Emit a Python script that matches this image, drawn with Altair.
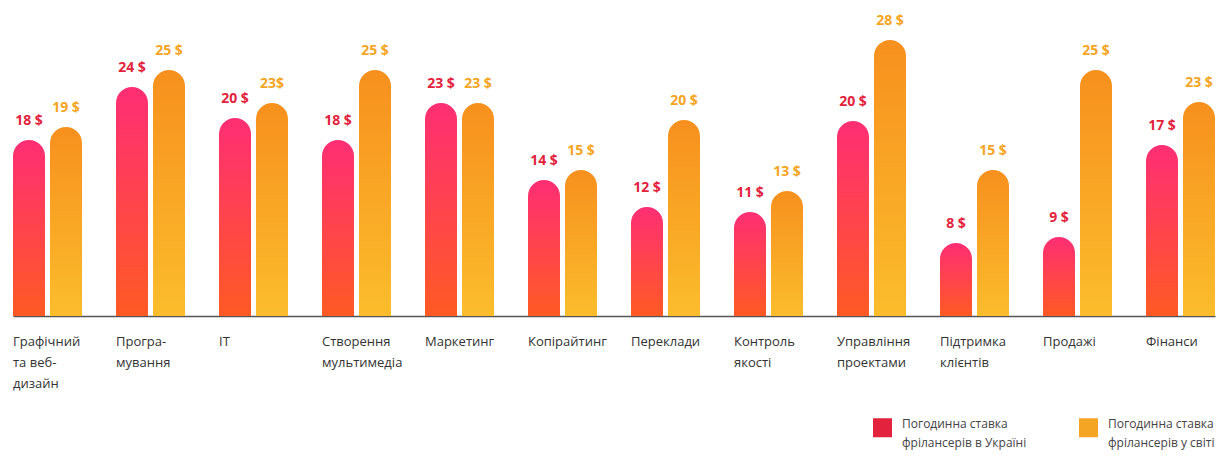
import altair as alt
import pandas as pd

categories = [
    "Графічний\nта веб-\nдизайн", "Програ-\nмування", "IT", "Створення\nмультимедіа",
    "Маркетинг", "Копірайтинг", "Переклади", "Контроль\nякості",
    "Управління\nпроектами", "Підтримка\nклієнтів", "Продажі", "Фінанси",
]
# bar heights
ua_values = [18.0, 23.3, 20.2, 18.0, 21.7, 14.0, 11.3, 10.8, 19.9, 7.7, 8.3, 17.5]
world_values = [19.3, 25.0, 21.7, 25.0, 21.7, 15.0, 20.0, 12.9, 28.0, 15.0, 25.0, 21.8]
# printed labels
ua_labels = ["18 $", "24 $", "20 $", "18 $", "23 $", "14 $", "12 $", "11 $", "20 $", "8 $", "9 $", "17 $"]
world_labels = ["19 $", "25 $", "23$", "25 $", "23 $", "15 $", "20 $", "13 $", "28 $", "15 $", "25 $", "23 $"]
series_keys = ["ua", "world"]
series_names = ["Погодинна ставка\nфрілансерів в Україні", "Погодинна ставка\nфрілансерів у світі"]

rows = []
for i, c in enumerate(categories):
    rows.append({"category": c, "key": "ua", "series": series_names[0], "value": ua_values[i], "label": ua_labels[i]})
    rows.append({"category": c, "key": "world", "series": series_names[1], "value": world_values[i], "label": world_labels[i]})
df = pd.DataFrame(rows)

FONT = "Open Sans"

x_enc = alt.X(
    "category:N", sort=categories, title=None,
    scale=alt.Scale(paddingInner=0.33, paddingOuter=0),
    axis=alt.Axis(
        domain=True, domainColor="#555555", domainWidth=1.5, ticks=False,
        labelAngle=0, labelAlign="left", labelBaseline="top", labelOffset=-34.5,
        labelPadding=19, labelFontSize=13, labelColor="#333333", labelFont=FONT,
        labelLineHeight=21, labelOverlap=False, labelLimit=200,
        labelExpr="split(datum.label, '\\n')",
    ),
)
xoff_enc = alt.XOffset("key:N", scale=alt.Scale(domain=series_keys, paddingInner=0.135, paddingOuter=0))
y_enc = alt.Y("value:Q", axis=None, scale=alt.Scale(domain=[0.4, 31.2], zero=False, nice=False))

base = alt.Chart(df)

grad_ua = alt.Gradient(
    gradient="linear",
    stops=[alt.GradientStop(color="#ff2e74", offset=0), alt.GradientStop(color="#ff5a24", offset=1)],
    x1=0, x2=0, y1=0, y2=1,
)
grad_world = alt.Gradient(
    gradient="linear",
    stops=[alt.GradientStop(color="#f7901e", offset=0), alt.GradientStop(color="#fbbd2c", offset=1)],
    x1=0, x2=0, y1=0, y2=1,
)

bars_ua = base.transform_filter(alt.datum.key == "ua").mark_bar(
    color=grad_ua, cornerRadiusTopLeft=16, cornerRadiusTopRight=16
).encode(x=x_enc, xOffset=xoff_enc, y=y_enc, y2=alt.datum(0.4))

bars_world = base.transform_filter(alt.datum.key == "world").mark_bar(
    color=grad_world, cornerRadiusTopLeft=16, cornerRadiusTopRight=16
).encode(x=x_enc, xOffset=xoff_enc, y=y_enc, y2=alt.datum(0.4))

labels = base.mark_text(
    font=FONT, fontSize=14, fontWeight="bold", dy=-15, baseline="alphabetic", align="center"
).encode(
    x=x_enc, xOffset=xoff_enc, y=y_enc, text="label:N",
    color=alt.Color(
        "series:N",
        scale=alt.Scale(domain=series_names, range=["#e3233d", "#f5a524"]),
        legend=alt.Legend(
            title=None, orient="none", legendX=860, legendY=410, direction="horizontal",
            symbolType="square", symbolSize=361, symbolStrokeWidth=0, symbolOpacity=1,
            labelFontSize=12, labelFont=FONT, labelColor="#444444", labelOffset=10,
            labelBaseline="alphabetic", columnPadding=52, padding=0,
            labelExpr="split(datum.label, '\\n')", labelLimit=300,
        ),
    ),
)

chart = alt.layer(bars_ua, bars_world, labels).properties(
    width=1202, height=308,
    padding={"left": 4, "top": 0, "right": 0, "bottom": 4},
    background="white",
).configure(
    style={"guide-label": {"lineHeight": 19}}
).configure_view(strokeWidth=0)

chart.save("out.html", embed_options={"renderer": "svg", "actions": False})
